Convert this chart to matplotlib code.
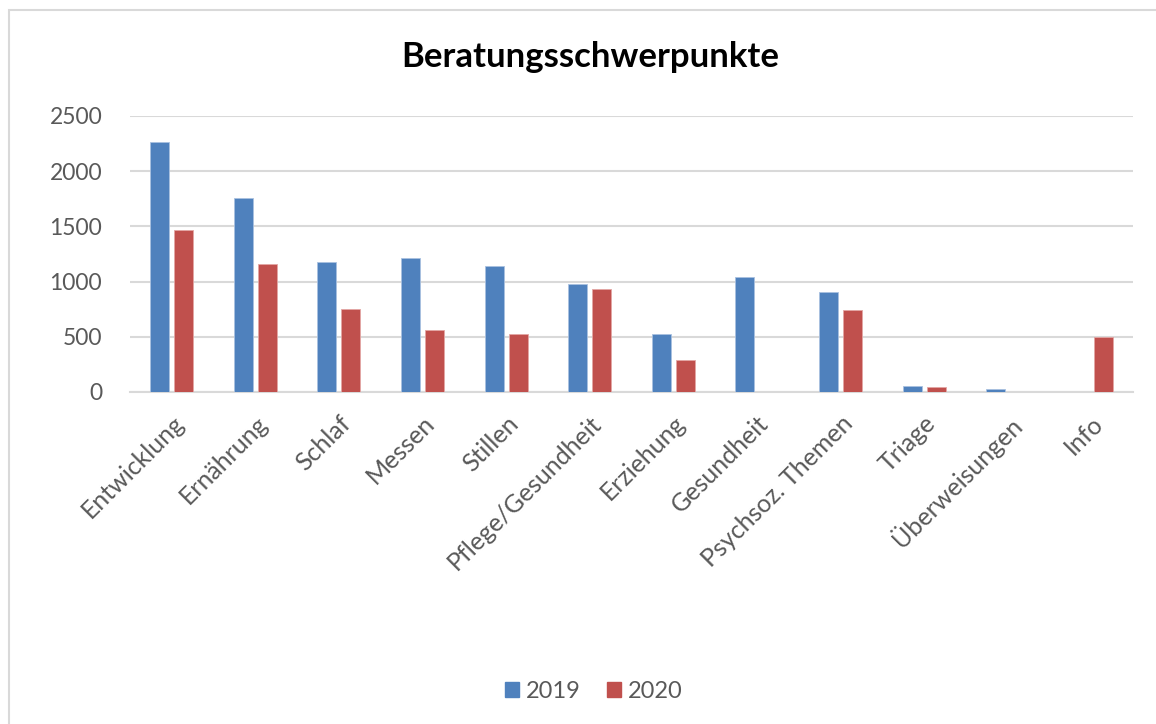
import matplotlib.pyplot as plt
import matplotlib.patches as mpatches
import numpy as np

plt.rcParams['font.family'] = ['Lato', 'DejaVu Sans']

categories = ['Entwicklung', 'Ernährung', 'Schlaf', 'Messen', 'Stillen',
              'Pflege/Gesundheit', 'Erziehung', 'Gesundheit', 'Psychsoz. Themen',
              'Triage', 'Überweisungen', 'Info']
values_2019 = [2266, 1757, 1175, 1217, 1145, 976, 527, 1042, 904, 57, 30, 0]
values_2020 = [1465, 1157, 753, 563, 521, 931, 289, 0, 741, 42, 0, 494]
series_labels = ['2019', '2020']
yticks = [0, 500, 1000, 1500, 2000, 2500]

blue = '#4f81bd'
red = '#c0504d'
grey_text = '#595959'

W, H = 1156, 724
fig = plt.figure(figsize=(W / 100, H / 100), dpi=100)

# plot area in pixels: x 130..1133, y 116..392
ax = fig.add_axes([130 / W, 1 - 392 / H, (1133 - 130) / W, (392 - 116) / H])

x = np.arange(len(categories))
bw = 0.227
gap = 0.06
ax.bar(x - (bw + gap) / 2, values_2019, width=bw, color=blue,
       edgecolor='#a9c1e0', linewidth=0.6, label=series_labels[0], zorder=3)
ax.bar(x + (bw + gap) / 2, values_2020, width=bw, color=red,
       edgecolor='#e3a6a4', linewidth=0.6, label=series_labels[1], zorder=3)

ax.set_xlim(-0.5, len(categories) - 0.5)
ax.set_ylim(0, 2500)
ax.set_yticks(yticks)
ax.yaxis.grid(True, color='#d9d9d9', linewidth=1.5, zorder=0)
ax.set_axisbelow(True)
for s in ['top', 'right', 'left']:
    ax.spines[s].set_visible(False)
ax.spines['bottom'].set_color('#d9d9d9')
ax.spines['bottom'].set_linewidth(1.5)
ax.tick_params(axis='both', length=0, colors=grey_text)
ax.tick_params(axis='y', pad=20, labelsize=16.5)
ax.set_xticks(x)
ax.set_xticklabels(categories, rotation=45, ha='right', rotation_mode='anchor')
ax.tick_params(axis='x', pad=14, labelsize=18)

fig.text(590 / W, 1 - 57 / H, 'Beratungsschwerpunkte', ha='center', va='center',
         fontsize=25, fontweight='bold', color='black')

handles = [mpatches.Patch(color=blue, label=series_labels[0]),
           mpatches.Patch(color=red, label=series_labels[1])]
leg = fig.legend(handles=handles, loc='center', bbox_to_anchor=(594 / W, 1 - 691 / H),
                 ncol=2, frameon=False, fontsize=17, handlelength=0.6,
                 handleheight=0.6, handletextpad=0.3, columnspacing=1.1)
for t in leg.get_texts():
    t.set_color(grey_text)

# chart border (runs off the right and bottom edges)
fig.add_artist(mpatches.Rectangle((9 / W, -0.05), 1.2, 1 - 10 / H + 0.05,
                                  transform=fig.transFigure, fill=False,
                                  edgecolor='#d9d9d9', linewidth=1.5))

fig.savefig('out.png', dpi=100)
